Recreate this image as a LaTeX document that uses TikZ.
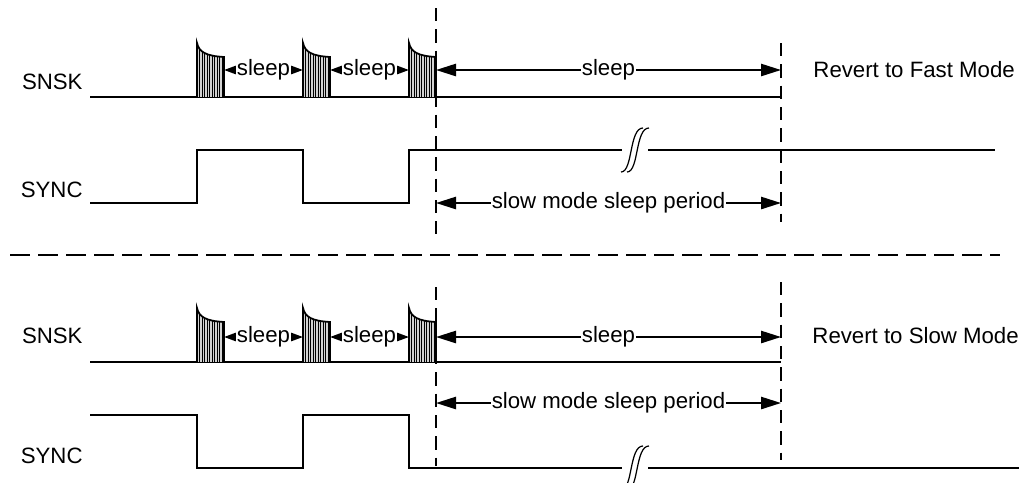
\documentclass[tikz,border=0pt]{standalone}
\usepackage{fontspec}
\setmainfont{Liberation Sans}
\usetikzlibrary{arrows.meta,calc}

\tikzset{
  signal/.style={line width=1pt},
  guide/.style={line width=1pt, dash pattern=on 6pt off 3.6pt},
  divider/.style={line width=1pt, dash pattern=on 9pt off 3.6pt},
  sleeparrow/.style={line width=0.85pt, {Triangle[length=5.5pt,width=3.8pt]}-{Triangle[length=5.5pt,width=3.8pt]}},
  periodarrow/.style={line width=0.85pt, {Triangle[length=9pt,width=5.5pt]}-{Triangle[length=9pt,width=5.5pt]}},
  gaplabel/.style={fill=white, inner sep=0.3pt},
  signame/.style={anchor=east, inner sep=0pt},
  breakmark/.style={line width=0.55pt}
}

% one SNSK burst: left edge x, base line y
\newcommand\snskburst[2]{%
  \begin{scope}
    \clip (#1,#2) -- (#1,#2-54) .. controls (#1+2,#2-45) and (#1+9,#2-41) .. (#1+27,#2-40) -- (#1+27,#2) -- cycle;
    \fill[gray!35] (#1,#2-60) rectangle (#1+27,#2);
    \foreach \k in {1,...,10} \draw[line width=0.3pt] (#1+2.5*\k,#2-60) -- (#1+2.5*\k,#2);
  \end{scope}
  \draw[line width=0.8pt] (#1,#2) -- (#1,#2-54) .. controls (#1+2,#2-45) and (#1+9,#2-41) .. (#1+27,#2-40) -- (#1+27,#2);
}

% break in a long signal line, centred on y
\newcommand\linebreakmark[1]{%
  \draw[breakmark] (621,#1+22) .. controls (633,#1+22) and (629,#1-22) .. (643,#1-22);
  \draw[breakmark] (627,#1+22) .. controls (639,#1+22) and (635,#1-22) .. (649,#1-22);
}

\begin{document}
\begin{tikzpicture}[x=0.45pt, y=-0.45pt, font=\fontsize{10}{12}\selectfont]
\useasboundingbox (0,0) rectangle (1019,482);

% fast mode panel
\node[signame] (snskA) at (83,82) {SNSK};
\node[signame] (syncA) at (83,190) {SYNC};
\draw[signal] (90,97) -- (781,97);
\draw[signal] (90,203) -| (197,150) -| (303,203) -| (409,150) -- (622,150);
\draw[signal] (648,150) -- (995,150);
\linebreakmark{150}
\foreach \p in {197,303,409} {\snskburst{\p}{97}}
\foreach \a/\b [count=\i] in {224/303, 330/409}
  \draw[sleeparrow] (\a,70) -- node[gaplabel] (napA\i) {sleep} (\b,70);

\draw[guide] (436,8) -- (436,234);
\draw[guide] (781,43) -- (781,222);
\coordinate (wakeA) at (436,70);  \coordinate (backA) at (781,70);
\coordinate (wakeA') at (436,203); \coordinate (backA') at (781,203);
\draw[periodarrow] (wakeA) -- node[gaplabel] (restA) {sleep} (backA);
\draw[periodarrow] (wakeA') -- node[gaplabel] (slowA) {slow mode sleep period} (backA');
\node[anchor=base west, inner sep=0pt] (revertA) at (813,77) {Revert to Fast Mode};

\draw[divider] (10,255) -- (1000,255);

% slow mode panel
\node[signame] (snskB) at (83,336) {SNSK};
\node[signame] (syncB) at (83,456) {SYNC};
\draw[signal] (90,362) -- (781,362);
\draw[signal] (90,415) -| (197,468) -| (303,415) -| (409,468) -- (622,468);
\draw[signal] (648,468) -- (1019,468);
\linebreakmark{468}
\foreach \p in {197,303,409} {\snskburst{\p}{362}}
\foreach \a/\b [count=\i] in {224/303, 330/409}
  \draw[sleeparrow] (\a,337) -- node[gaplabel] (napB\i) {sleep} (\b,337);

\draw[guide] (436,287) -- (436,466);
\draw[guide] (781,282) -- (781,460);
\coordinate (wakeB) at (436,337);  \coordinate (backB) at (781,337);
\coordinate (wakeB') at (436,403); \coordinate (backB') at (781,403);
\draw[periodarrow] (wakeB) -- node[gaplabel] (restB) {sleep} (backB);
\draw[periodarrow] (wakeB') -- node[gaplabel] (slowB) {slow mode sleep period} (backB');
\node[anchor=base west, inner sep=0pt] (revertB) at (812,343) {Revert to Slow Mode};
\end{tikzpicture}
\end{document}
